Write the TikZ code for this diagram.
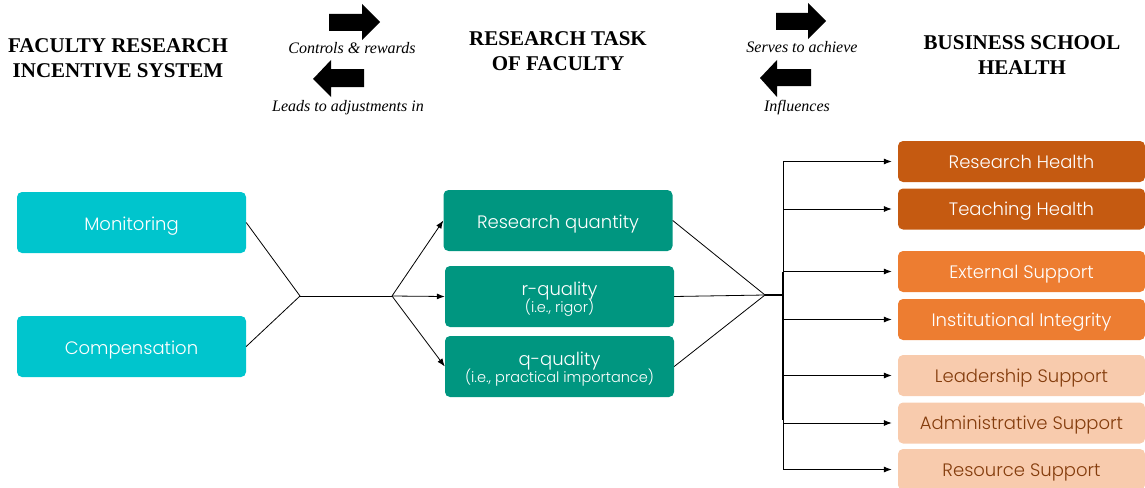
\documentclass[tikz,border=0pt]{standalone}
\usepackage{fontspec}
\setmainfont{Liberation Serif}
\newfontfamily\boxfont{Poppins Light}
\usetikzlibrary{arrows.meta}

\definecolor{cyanbox}{RGB}{0,197,205}
\definecolor{tealbox}{RGB}{0,150,128}
\definecolor{darkorange}{RGB}{197,90,17}
\definecolor{midorange}{RGB}{237,125,49}
\definecolor{lightorange}{RGB}{248,203,173}
\definecolor{browntext}{RGB}{132,60,12}

\tikzset{
  box/.style={rounded corners=5pt, inner sep=0pt, align=center, text=white,
    font=\boxfont\fontsize{18}{21}\selectfont},
  incbox/.style={box, fill=cyanbox, minimum width=229pt, minimum height=61pt,
    text height=16pt, text depth=0pt},
  taskbox/.style={box, fill=tealbox, minimum width=229pt, minimum height=61pt,
    text height=16pt, text depth=0pt},
  twoline/.style={text height=32pt, text depth=0pt},
  healthbox/.style={box, minimum width=247pt, minimum height=41pt,
    text height=13.5pt, text depth=0pt},
  hdark/.style={healthbox, fill=darkorange},
  hmid/.style={healthbox, fill=midorange},
  hlight/.style={healthbox, fill=lightorange, text=browntext},
  heading/.style={align=center, font=\bfseries\fontsize{21}{25}\selectfont},
  flowlabel/.style={font=\itshape\fontsize{16}{18}\selectfont},
  conn/.style={line width=0.8pt},
  arr/.style={conn, -{Latex[length=8pt,width=6pt]}},
  bigarrow/.style={fill=black}
}
\newcommand{\subline}[1]{{\fontsize{14.5}{16}\selectfont #1}}

\begin{document}
\begin{tikzpicture}[x=1pt,y=-1pt]
\useasboundingbox (0,0) rectangle (1145,487);

% column headings
\node[heading] (hinc) at (118,58) {FACULTY RESEARCH\\INCENTIVE SYSTEM};
\node[heading] (htask) at (558,51) {RESEARCH TASK\\OF FACULTY};
\node[heading] (hhealth) at (1022,55) {BUSINESS SCHOOL\\HEALTH};

% block arrows between the headings
\fill[bigarrow] (329,14) -- (362,14) -- (362,4) -- (380,22) -- (362,40) -- (362,31) -- (329,31) -- cycle;
\fill[bigarrow] (364,69) -- (331,69) -- (331,60) -- (313,79) -- (331,97) -- (331,87) -- (364,87) -- cycle;
\fill[bigarrow] (776,13) -- (808,13) -- (808,3) -- (826,21) -- (808,39) -- (808,30) -- (776,30) -- cycle;
\fill[bigarrow] (811,69) -- (777,69) -- (777,60) -- (760,78) -- (777,97) -- (777,86) -- (811,86) -- cycle;

\node[flowlabel] (l1) at (352,48) {Controls \& rewards};
\node[flowlabel] (l2) at (348,108) {Leads to adjustments in};
\node[flowlabel] (l3) at (802,47) {Serves to achieve};
\node[flowlabel] (l4) at (797,108) {Influences};

% incentive system
\node[incbox] (mon) at (131.5,222.5) {Monitoring};
\node[incbox] (comp) at (131.5,346.5) {Compensation};

% research task
\node[taskbox] (rq) at (558,220.5) {Research quantity};
\node[taskbox, twoline] (rqual) at (559.5,296.5) {r-quality\\[-4pt]\subline{(i.e., rigor)}};
\node[taskbox, twoline] (qqual) at (559.5,366.5) {q-quality\\[-4pt]\subline{(i.e., practical importance)}};

% school health
\node[hdark] (rh) at (1021.5,161.5) {Research Health};
\node[hdark] (th) at (1021.5,209) {Teaching Health};
\node[hmid] (es) at (1021.5,271.5) {External Support};
\node[hmid] (ii) at (1021.5,319.5) {Institutional Integrity};
\node[hlight] (ls) at (1021.5,375.5) {Leadership Support};
\node[hlight] (as) at (1021.5,423) {Administrative Support};
\node[hlight] (rs) at (1021.5,469.5) {Resource Support};

% junctions
\coordinate (j1) at (300,296);
\coordinate (j2) at (392,296);
\coordinate (j3) at (765,295);
\coordinate (j4) at (783,295);
\coordinate (bustop) at (783,272);
\coordinate (busbot) at (783,420);

% incentives -> research task
\draw[conn] (mon.east) -- (j1);
\draw[conn] (comp.east) -- (j1);
\draw[conn] (j1) -- (j2);
\draw[arr] (j2) -- (rq.west);
\draw[arr] (j2) -- (rqual.west);
\draw[arr] (j2) -- (qqual.west);

% research task -> school health
\draw[conn] (rq.east) -- (j3);
\draw[conn] (rqual.east) -- (j3);
\draw[conn] (qqual.east) -- (j3);
\draw[line width=2pt] (j3) -- (j4);
\draw[line width=2pt] (bustop) -- (busbot);
\foreach \t in {rh,th,es,ii,ls,as,rs}
  \draw[arr, shorten >=6pt] (j4) |- (\t.west);

\end{tikzpicture}
\end{document}
